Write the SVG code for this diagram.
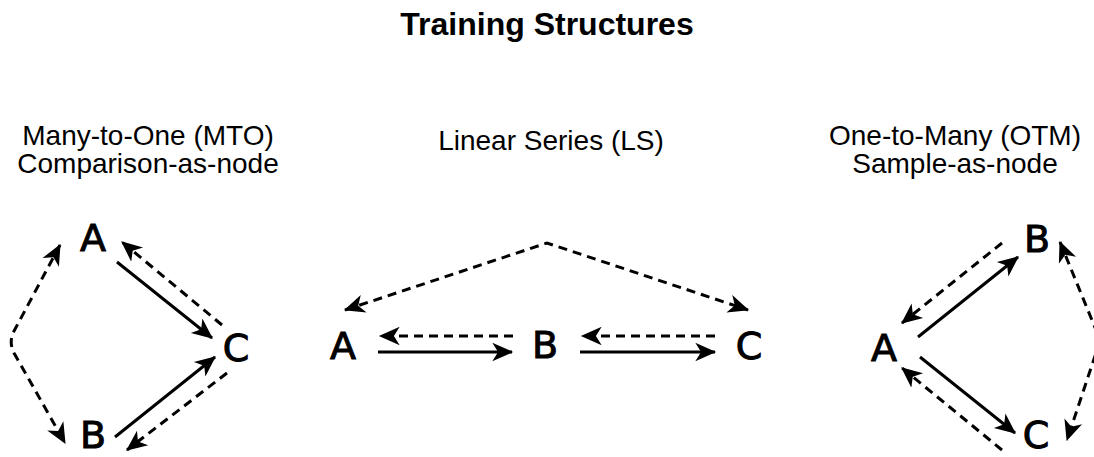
<svg xmlns="http://www.w3.org/2000/svg" width="1094" height="457" viewBox="0 0 1094 457">
<style>
.title{font-family:"Liberation Sans",Arial,sans-serif;font-size:32px;font-weight:bold;fill:#000;text-anchor:middle}
.sub{font-family:"Liberation Sans",Arial,sans-serif;font-size:28px;fill:#000;text-anchor:middle}
.node{font-family:"DejaVu Sans",sans-serif;font-size:38px;fill:#000;stroke:#000;stroke-width:1;text-anchor:middle}
.solid{fill:none;stroke:#000;stroke-width:3;marker-end:url(#arr)}
.dash{fill:none;stroke:#000;stroke-width:3;stroke-dasharray:9 6;marker-end:url(#arr)}
.dbl{fill:none;stroke:#000;stroke-width:3;stroke-dasharray:9 6;marker-end:url(#arr);marker-start:url(#arr)}
</style>
<defs>
<marker id="arr" markerUnits="userSpaceOnUse" markerWidth="22" markerHeight="22" viewBox="0 -9 19 18" refX="17" refY="0" orient="auto-start-reverse">
<path d="M0,-8 L18,0 L0,8 L5,0 Z" fill="#000"/>
</marker>
</defs>
<rect width="1094" height="457" fill="#fff"/>
<text class="title" x="547" y="35">Training Structures</text>
<g id="label-mto">
<text class="sub" x="148" y="145">Many-to-One (MTO)</text>
<text class="sub" x="148" y="173">Comparison-as-node</text>
</g>
<g id="label-ls"><text class="sub" x="551" y="150">Linear Series (LS)</text></g>
<g id="label-otm">
<text class="sub" x="955" y="145">One-to-Many (OTM)</text>
<text class="sub" x="955" y="173">Sample-as-node</text>
</g>
<g id="mto-A"><text class="node" x="93" y="251">A</text></g>
<g id="mto-C"><text class="node" x="236" y="361">C</text></g>
<g id="mto-B"><text class="node" x="93" y="448">B</text></g>
<g id="ls-A"><text class="node" x="343" y="359">A</text></g>
<g id="ls-B"><text class="node" x="545" y="358">B</text></g>
<g id="ls-C"><text class="node" x="749" y="359">C</text></g>
<g id="otm-B"><text class="node" x="1037" y="252">B</text></g>
<g id="otm-A"><text class="node" x="884" y="361">A</text></g>
<g id="otm-C"><text class="node" x="1036" y="448">C</text></g>
<g id="connectors">
<path class="solid" d="M117,262 L212,338"/>
<path class="dash" d="M222,325 L122,242"/>
<path class="solid" d="M115,437 L215,357"/>
<path class="dash" d="M227,373 L127,450"/>
<path class="dbl" d="M60,245 L13,333 Q9,343 14,353 L65,443"/>
<path class="solid" d="M378,352 L512,352"/>
<path class="dash" d="M513,336 L380,336"/>
<path class="solid" d="M580,352 L715,352"/>
<path class="dash" d="M715,336 L582,336"/>
<path class="dbl" d="M345,310 L547,243 L748,310"/>
<path class="solid" d="M918,337 L1018,257"/>
<path class="dash" d="M1002,243 L902,323"/>
<path class="solid" d="M920,357 L1015,433"/>
<path class="dash" d="M1002,450 L902,368"/>
<path class="dbl" d="M1060,242 L1096,330 Q1099,340 1097,350 L1067,440"/>
</g>
</svg>
